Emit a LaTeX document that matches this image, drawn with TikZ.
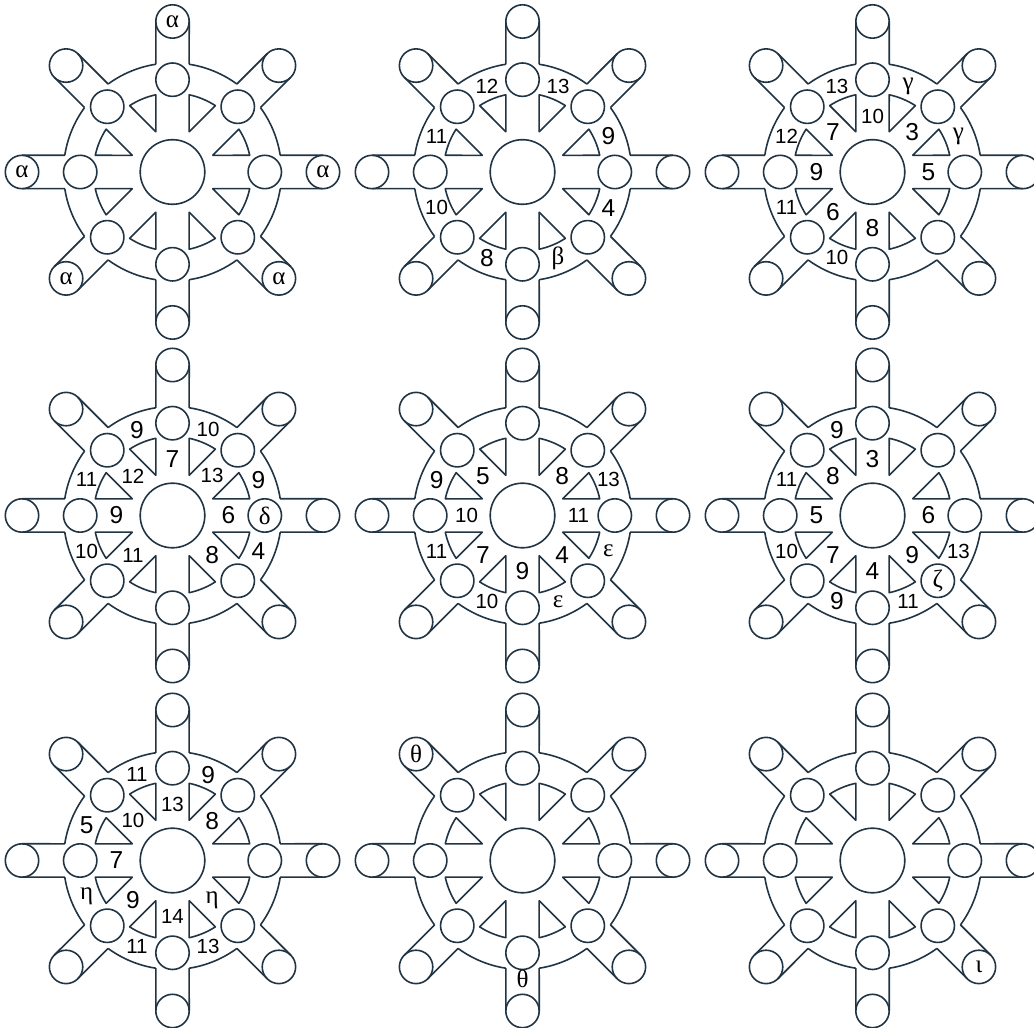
\documentclass[tikz,border=0pt]{standalone}
\usepackage{fontspec}
\setmainfont{Liberation Sans}
\newfontfamily\grkfont{Liberation Serif}
\definecolor{rimcol}{RGB}{33,52,68}

\newcommand{\wheelframe}[1]{%
  \node[hub] (#1h) at (0,0) {};
  \foreach \a in {0,45,...,315} {
    \draw[rim] (\a+8.81:109) arc[start angle=\a+8.81, end angle=\a+36.19, radius=109];
    \draw[rim] (\a+8.81:109) -- ([shift={(\a:150.5)}]\a+90:16.7);
    \draw[rim] (\a-8.81:109) -- ([shift={(\a:150.5)}]\a-90:16.7);
    \draw[rim] (\a+22.5:43.6) -- (\a+12.2:79) arc[start angle=\a+12.2, end angle=\a+32.8, radius=79] -- cycle;
    \node[ball] (#1e\a) at (\a:150.5) {};
    \node[ball] (#1i\a) at (\a:92.3) {};
  }%
}

\begin{document}
\begin{tikzpicture}[x=1pt, y=1pt,
  rim/.style={draw=rimcol, line width=1.6pt, line join=round},
  hub/.style={circle, draw=rimcol, line width=1.6pt, minimum size=64.6pt, inner sep=0pt},
  ball/.style={circle, draw=rimcol, line width=1.6pt, minimum size=33.4pt, inner sep=0pt},
  bn/.style={font=\fontsize{24.5}{25}\selectfont, inner sep=0pt},
  sn/.style={font=\fontsize{20.5}{21}\selectfont, inner sep=0pt},
  gk/.style={font=\grkfont\fontsize{25}{25}\selectfont, inner sep=0pt}
]
  \useasboundingbox (0,0) rectangle (1034,1028);

  % top row
  \begin{scope}[shift={(172.5,856)}]
    \wheelframe{wa}
    \foreach \a in {0,90,180,225,315} \node[gk] (wa\a) at (wae\a) {α};
  \end{scope}
  \begin{scope}[shift={(522.5,856)}]
    \wheelframe{wb}
    \foreach \a/\t/\s [count=\n] in {112.5/12/sn, 67.5/13/sn, 22.5/9/bn, 337.5/4/bn,
        292.5/β/gk, 247.5/8/bn, 202.5/10/sn, 157.5/11/sn}
      \node[\s] (wbo\n) at (\a:93) {\t};
  \end{scope}
  \begin{scope}[shift={(872.5,856)}]
    \wheelframe{wc}
    \foreach \a/\t/\s [count=\n] in {112.5/13/sn, 67.5/γ/gk, 22.5/γ/gk,
        157.5/12/sn, 202.5/11/sn, 247.5/10/sn}
      \node[\s] (wco\n) at (\a:93) {\t};
    \foreach \a/\t/\s [count=\n] in {90/10/sn, 135/7/bn, 45/3/bn, 180/9/bn, 0/5/bn,
        225/6/bn, 270/8/bn}
      \node[\s] (wcs\n) at (\a:56) {\t};
  \end{scope}

  % middle row
  \begin{scope}[shift={(172.5,512.5)}]
    \wheelframe{wd}
    \foreach \a/\t/\s [count=\n] in {112.5/9/bn, 67.5/10/sn, 157.5/11/sn, 22.5/9/bn,
        202.5/10/sn, 337.5/4/bn}
      \node[\s] (wdo\n) at (\a:93) {\t};
    \foreach \a/\t/\s [count=\n] in {90/7/bn, 135/12/sn, 45/13/sn, 180/9/bn, 0/6/bn,
        225/11/sn, 315/8/bn}
      \node[\s] (wds\n) at (\a:56) {\t};
    \node[gk] (wdd) at (wdi0) {δ};
  \end{scope}
  \begin{scope}[shift={(522.5,512.5)}]
    \wheelframe{we}
    \foreach \a/\t/\s [count=\n] in {157.5/9/bn, 22.5/13/sn, 202.5/11/sn,
        337.5/ε/gk, 247.5/10/sn, 292.5/ε/gk}
      \node[\s] (weo\n) at (\a:93) {\t};
    \foreach \a/\t/\s [count=\n] in {135/5/bn, 45/8/bn, 180/10/sn, 0/11/sn, 225/7/bn,
        270/9/bn, 315/4/bn}
      \node[\s] (wes\n) at (\a:56) {\t};
  \end{scope}
  \begin{scope}[shift={(872.5,512.5)}]
    \wheelframe{wf}
    \foreach \a/\t/\s [count=\n] in {112.5/9/bn, 157.5/11/sn, 202.5/10/sn, 337.5/13/sn,
        247.5/9/bn, 292.5/11/sn}
      \node[\s] (wfo\n) at (\a:93) {\t};
    \foreach \a/\t/\s [count=\n] in {90/3/bn, 135/8/bn, 180/5/bn, 0/6/bn, 225/7/bn,
        270/4/bn, 315/9/bn}
      \node[\s] (wfs\n) at (\a:56) {\t};
    \node[gk] (wfz) at (wfi315) {ζ};
  \end{scope}

  % bottom row
  \begin{scope}[shift={(172.5,167.5)}]
    \wheelframe{wg}
    \foreach \a/\t/\s [count=\n] in {112.5/11/sn, 67.5/9/bn, 157.5/5/bn,
        202.5/η/gk, 247.5/11/sn, 292.5/13/sn}
      \node[\s] (wgo\n) at (\a:93) {\t};
    \foreach \a/\t/\s [count=\n] in {90/13/sn, 135/10/sn, 45/8/bn, 180/7/bn, 225/9/bn,
        270/14/sn, 315/η/gk}
      \node[\s] (wgs\n) at (\a:56) {\t};
  \end{scope}
  \begin{scope}[shift={(522.5,167.5)}]
    \wheelframe{wh}
    \node[gk] (wht1) at (whe135) {θ};
    \node[gk] (wht2) at (270:118) {θ};
  \end{scope}
  \begin{scope}[shift={(872.5,167.5)}]
    \wheelframe{wi}
    \node[gk] (wii) at (wie315) {ι};
  \end{scope}
\end{tikzpicture}
\end{document}
